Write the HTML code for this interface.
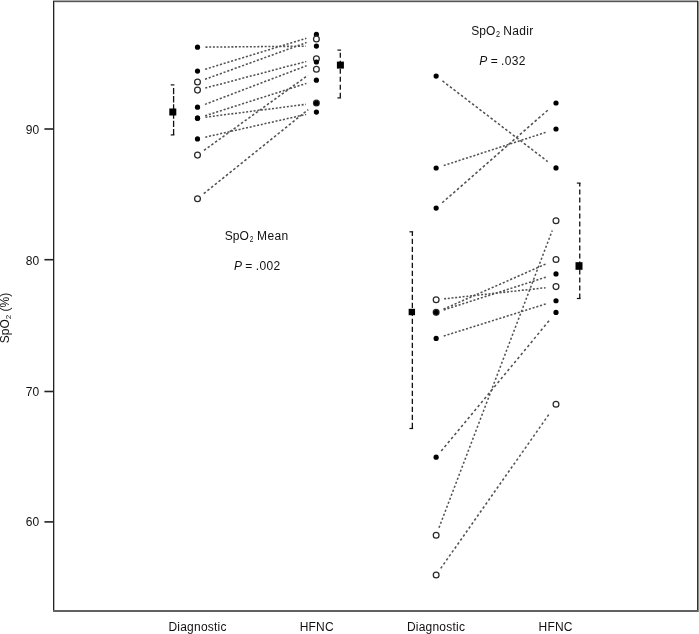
<!DOCTYPE html>
<html><head><meta charset="utf-8"><style>
html,body{margin:0;padding:0;background:#fff;}
svg{display:block;will-change:transform;}
text{font-family:"Liberation Sans",sans-serif;font-size:12px;fill:#111;}
.dl line{stroke:#525252;stroke-width:1.55;fill:none;}
.om circle{fill:#fff;stroke:#2a2a2a;stroke-width:1.25;}
.fm circle{fill:#000;}
.eb{stroke:#111;stroke-width:1.3;}
.cap{stroke:#111;stroke-width:1.2;}
.sq{fill:#000;}
.tk{stroke:#222;stroke-width:1.6;}
</style></head><body>
<svg width="699" height="634" viewBox="0 0 699 634">
<rect x="0" y="0" width="699" height="634" fill="#fff"/>
<rect x="53" y="0" width="645" height="1" fill="#aaa"/>
<rect x="698" y="1" width="1" height="611" fill="#888"/>
<rect x="53" y="1" width="645" height="1" fill="#555"/>
<rect x="53" y="2" width="645" height="1" fill="#e0e0e0"/>
<rect x="53" y="1" width="1" height="611" fill="#222"/>
<rect x="54" y="2" width="1" height="608" fill="#b8b8b8"/>
<rect x="697" y="1" width="1" height="611" fill="#333"/>
<rect x="53" y="610" width="645" height="2" fill="#626262"/>
<line x1="44.4" y1="129.0" x2="53.5" y2="129.0" class="tk"/><text x="39.3" y="133.8" text-anchor="end" letter-spacing="0.1">90</text><line x1="44.4" y1="259.7" x2="53.5" y2="259.7" class="tk"/><text x="39.3" y="265.3" text-anchor="end" letter-spacing="0.1">80</text><line x1="44.4" y1="391.5" x2="53.5" y2="391.5" class="tk"/><text x="39.3" y="395.7" text-anchor="end" letter-spacing="0.1">70</text><line x1="44.4" y1="521.9" x2="53.5" y2="521.9" class="tk"/><text x="39.3" y="525.7" text-anchor="end" letter-spacing="0.1">60</text>
<g class="dl"><line x1="205.50" y1="47.13" x2="305.90" y2="46.20" stroke-dasharray="2.00 1.70"/><line x1="205.15" y1="69.26" x2="306.36" y2="38.27" stroke-dasharray="2.09 1.78"/><line x1="205.02" y1="79.28" x2="306.53" y2="42.57" stroke-dasharray="2.13 1.81"/><line x1="205.24" y1="88.06" x2="306.25" y2="61.47" stroke-dasharray="2.07 1.76"/><line x1="204.98" y1="104.36" x2="306.59" y2="65.73" stroke-dasharray="2.14 1.82"/><line x1="205.12" y1="115.76" x2="306.40" y2="83.40" stroke-dasharray="2.10 1.78"/><line x1="205.44" y1="117.19" x2="305.98" y2="104.33" stroke-dasharray="2.02 1.71"/><line x1="205.30" y1="137.14" x2="306.16" y2="114.41" stroke-dasharray="2.05 1.74"/><line x1="203.98" y1="150.42" x2="307.89" y2="75.35" stroke-dasharray="2.47 2.10"/><line x1="203.73" y1="193.68" x2="308.22" y2="109.58" stroke-dasharray="2.57 2.18"/><line x1="442.50" y1="80.96" x2="547.66" y2="161.52" stroke-dasharray="2.52 2.14"/><line x1="443.76" y1="165.52" x2="546.02" y2="132.25" stroke-dasharray="2.10 1.79"/><line x1="442.17" y1="202.78" x2="548.10" y2="109.92" stroke-dasharray="2.66 2.26"/><line x1="444.10" y1="298.83" x2="545.56" y2="287.74" stroke-dasharray="2.01 1.71"/><line x1="443.47" y1="309.12" x2="546.39" y2="263.74" stroke-dasharray="2.19 1.86"/><line x1="443.77" y1="309.91" x2="546.00" y2="277.11" stroke-dasharray="2.10 1.79"/><line x1="443.78" y1="336.00" x2="545.98" y2="303.90" stroke-dasharray="2.10 1.78"/><line x1="441.25" y1="451.04" x2="549.31" y2="320.49" stroke-dasharray="2.60 2.60"/><line x1="439.00" y1="527.72" x2="552.26" y2="230.51" stroke-dasharray="2.14 2.14"/><line x1="440.75" y1="568.40" x2="549.97" y2="412.89" stroke-dasharray="2.44 2.44"/></g>
<g class="om"><circle cx="197.5" cy="82.00" r="2.9"/><circle cx="197.5" cy="90.10" r="2.9"/><circle cx="316.4" cy="58.80" r="2.9"/><circle cx="197.5" cy="155.10" r="2.9"/><circle cx="316.4" cy="69.20" r="2.9"/><circle cx="197.5" cy="198.70" r="2.9"/><circle cx="316.4" cy="103.00" r="2.9"/><circle cx="436.15" cy="299.70" r="2.9"/><circle cx="556.0" cy="286.60" r="2.9"/><circle cx="436.15" cy="312.35" r="2.9"/><circle cx="556.0" cy="259.50" r="2.9"/><circle cx="436.15" cy="535.20" r="2.9"/><circle cx="556.0" cy="220.70" r="2.9"/><circle cx="436.15" cy="574.95" r="2.9"/><circle cx="556.0" cy="404.30" r="2.9"/></g>
<g class="fm"><circle cx="197.5" cy="47.20" r="2.6"/><circle cx="316.4" cy="46.10" r="2.6"/><circle cx="197.5" cy="71.10" r="2.6"/><circle cx="316.4" cy="34.40" r="2.6"/><circle cx="197.5" cy="107.20" r="2.6"/><circle cx="316.4" cy="62.00" r="2.6"/><circle cx="197.5" cy="118.20" r="2.6"/><circle cx="316.4" cy="80.20" r="2.6"/><circle cx="197.5" cy="118.20" r="2.6"/><circle cx="316.4" cy="103.00" r="2.6"/><circle cx="197.5" cy="138.90" r="2.6"/><circle cx="316.4" cy="112.10" r="2.6"/><circle cx="436.15" cy="76.10" r="2.6"/><circle cx="556.0" cy="167.90" r="2.6"/><circle cx="436.15" cy="168.00" r="2.6"/><circle cx="556.0" cy="129.00" r="2.6"/><circle cx="436.15" cy="208.05" r="2.6"/><circle cx="556.0" cy="103.00" r="2.6"/><circle cx="436.15" cy="312.35" r="2.6"/><circle cx="556.0" cy="273.90" r="2.6"/><circle cx="436.15" cy="338.40" r="2.6"/><circle cx="556.0" cy="300.75" r="2.6"/><circle cx="436.15" cy="457.20" r="2.6"/><circle cx="556.0" cy="312.40" r="2.6"/></g>
<g class="om"><circle cx="316.4" cy="39.00" r="2.9"/></g>
<line x1="173.6" y1="87.9" x2="173.6" y2="134.9" class="eb" stroke-dasharray="6.3 1.9" stroke-dashoffset="0"/><line x1="170.70" y1="84.9" x2="174.40" y2="84.9" class="cap"/><line x1="170.70" y1="134.9" x2="174.40" y2="134.9" class="cap"/><rect x="169.30" y="108.50" width="7" height="7" class="sq"/><line x1="340.3" y1="52.7" x2="340.3" y2="97.9" class="eb" stroke-dasharray="5.0 3.0" stroke-dashoffset="0"/><line x1="337.40" y1="50.1" x2="341.10" y2="50.1" class="cap"/><line x1="337.40" y1="97.9" x2="341.10" y2="97.9" class="cap"/><rect x="336.90" y="61.60" width="7" height="7" class="sq"/><line x1="412.35" y1="231.8" x2="412.35" y2="428.5" class="eb" stroke-dasharray="5.3 2.7" stroke-dashoffset="1.0"/><line x1="409.45" y1="231.8" x2="413.15" y2="231.8" class="cap"/><line x1="409.45" y1="428.5" x2="413.15" y2="428.5" class="cap"/><rect x="408.65" y="308.80" width="6.4" height="6.4" class="sq"/><line x1="579.75" y1="183.1" x2="579.75" y2="298.5" class="eb" stroke-dasharray="4.8 3.2" stroke-dashoffset="1.5"/><line x1="576.85" y1="183.1" x2="580.55" y2="183.1" class="cap"/><line x1="576.85" y1="298.5" x2="580.55" y2="298.5" class="cap"/><rect x="575.50" y="262.20" width="7" height="7.6" class="sq"/>
<text x="471.3" y="35">SpO</text><text transform="translate(496.1,36.9) scale(0.78,1)" style="font-size:9.4px">2</text><text x="503.2" y="35" letter-spacing="0.32">Nadir</text>
<text x="479.3" y="64.5"><tspan font-style="italic">P</tspan> = <tspan letter-spacing="0.35">.032</tspan></text>
<text x="224.8" y="240">SpO</text><text transform="translate(249.7,242.0) scale(0.74,1)" style="font-size:8.8px">2</text><text x="257.0" y="240" letter-spacing="0.38">Mean</text>
<text x="234.0" y="269.5"><tspan font-style="italic">P</tspan> = <tspan letter-spacing="0.35">.002</tspan></text>
<text x="197.55" y="631.2" text-anchor="middle" letter-spacing="0.22">Diagnostic</text>
<text x="316.7" y="631" text-anchor="middle" letter-spacing="0.2">HFNC</text>
<text x="436.0" y="631.2" text-anchor="middle" letter-spacing="0.22">Diagnostic</text>
<text x="555.6" y="631" text-anchor="middle" letter-spacing="0.2">HFNC</text>
<text transform="translate(9.2,318) rotate(-90)" text-anchor="middle">SpO<tspan font-size="8" dy="1.9">2</tspan><tspan dy="-1.9"> (%)</tspan></text>
</svg>
</body></html>
